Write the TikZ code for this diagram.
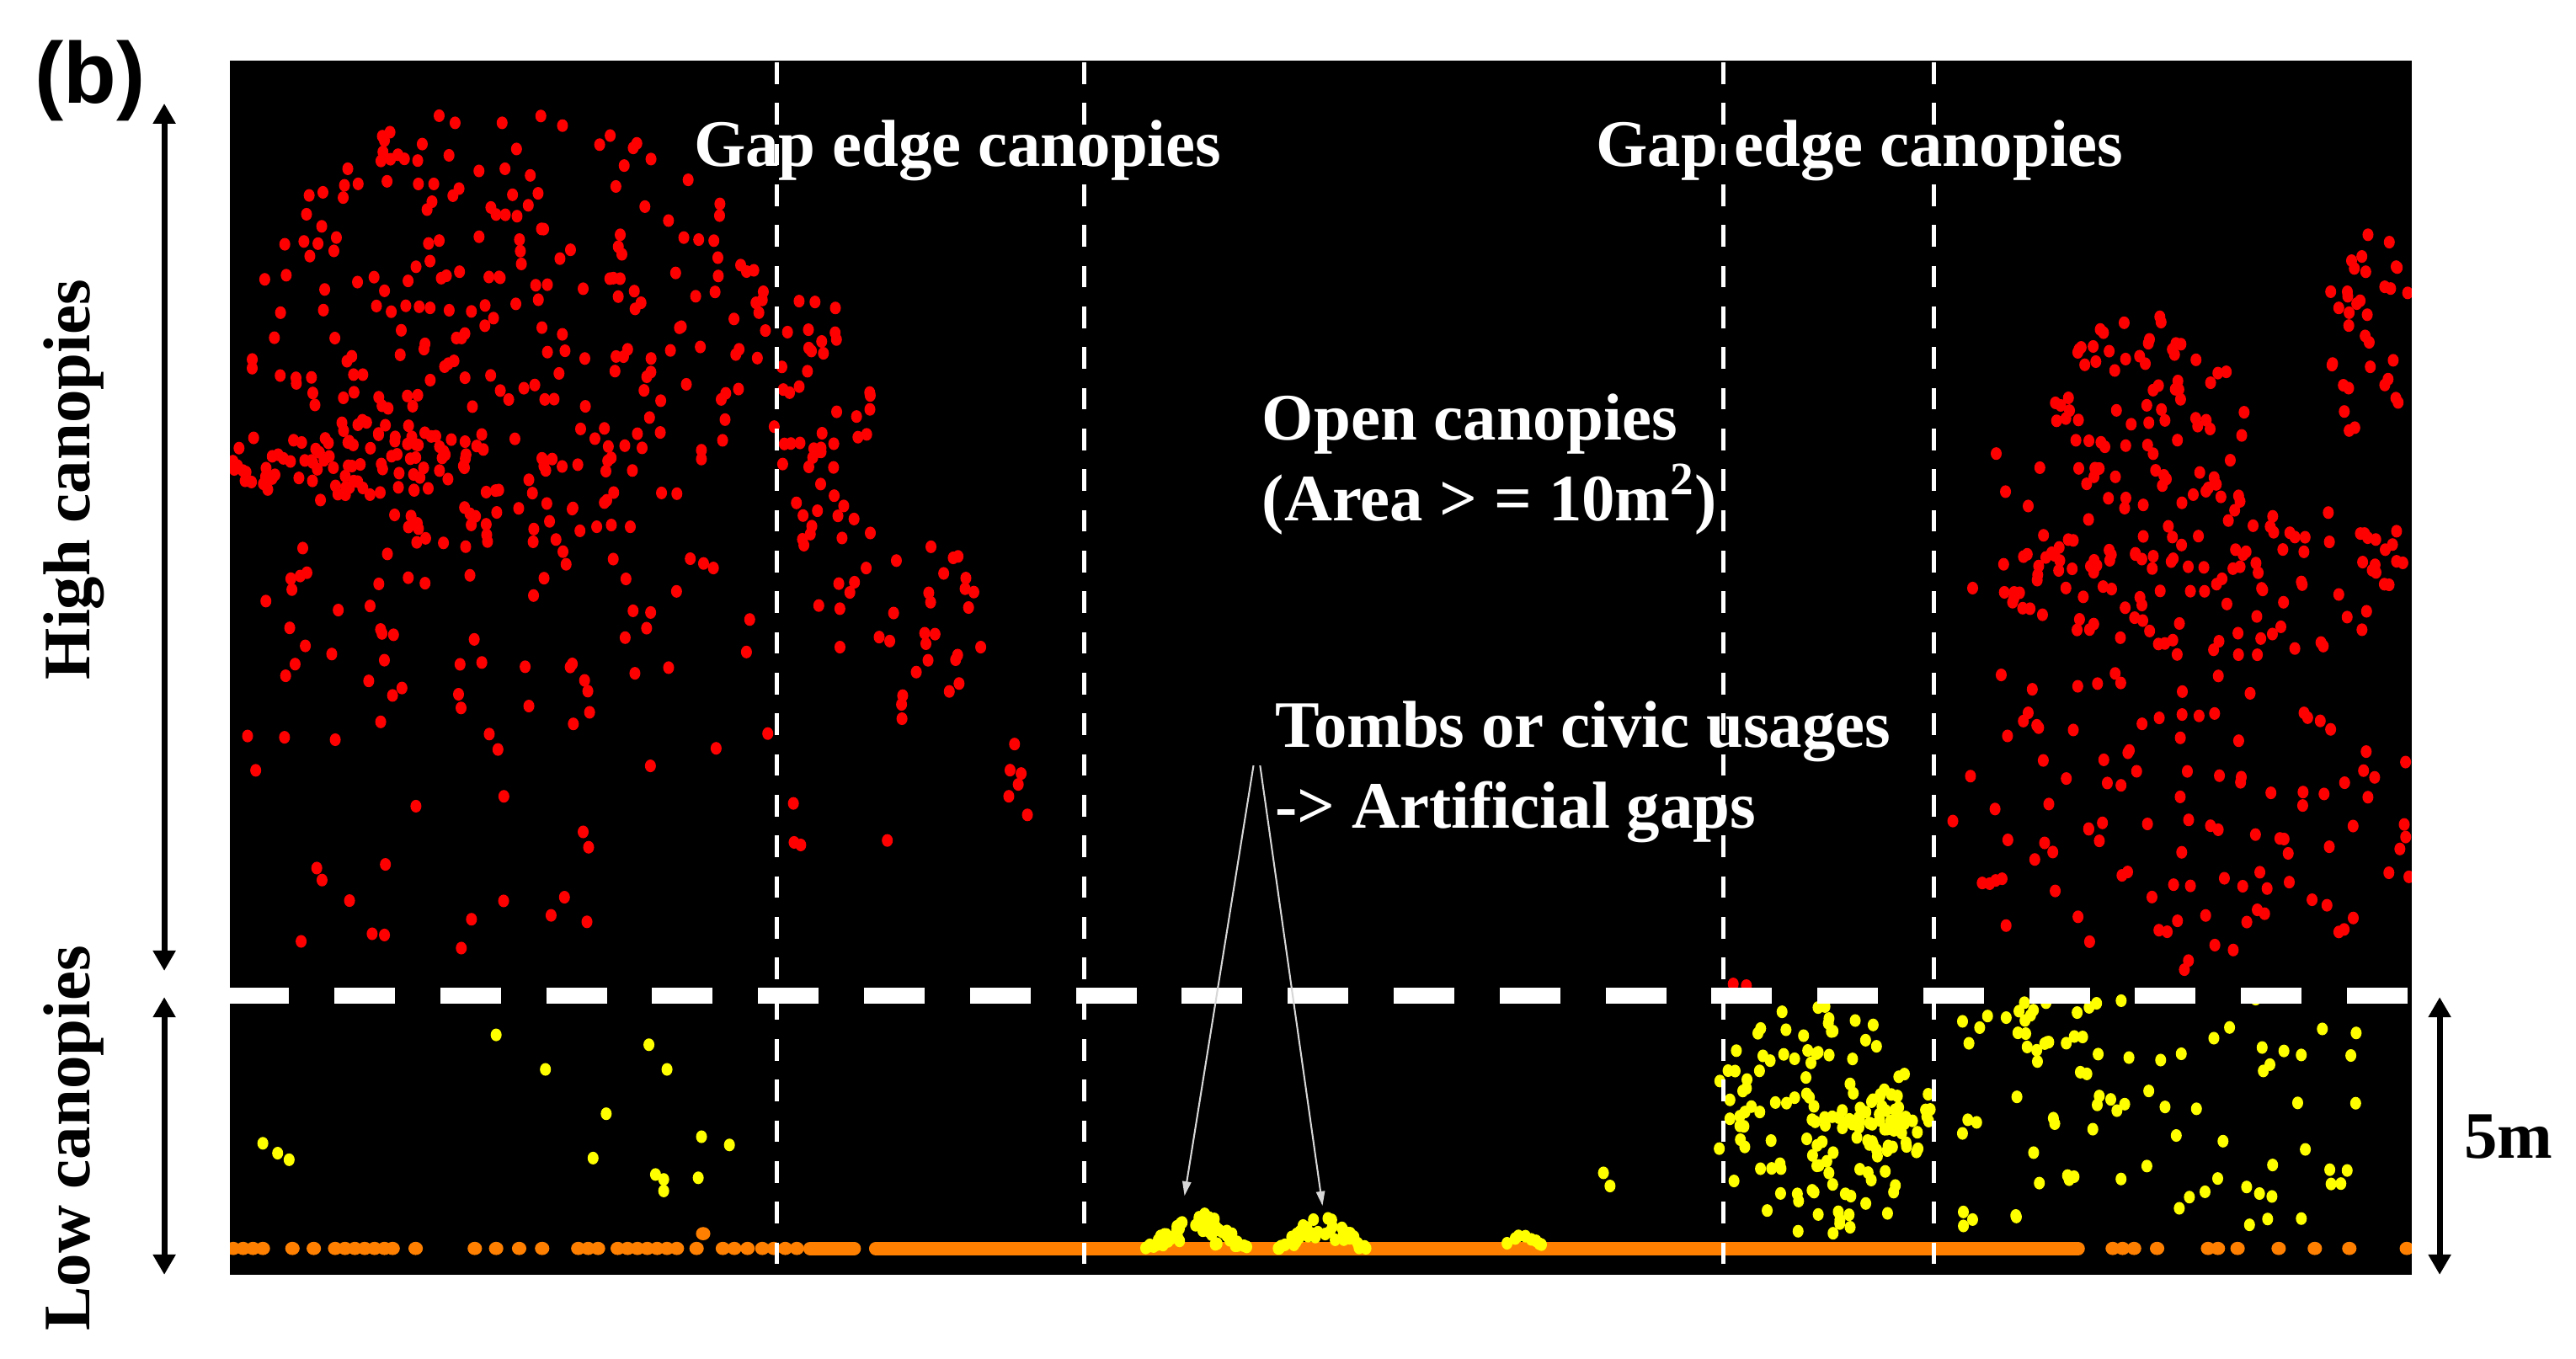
\documentclass[tikz,border=0pt]{standalone}
\usepackage{fontspec}
\setmainfont{Liberation Serif}
\newfontfamily\tagfont{Liberation Sans}
\usetikzlibrary{arrows.meta}
\definecolor{ptred}{RGB}{255,0,0}
\definecolor{ptyellow}{RGB}{255,255,0}
\definecolor{ptorange}{RGB}{255,128,0}
\definecolor{pointergray}{RGB}{215,215,215}

% scattered returns: n, cx, cy, rx, ry, style
\newcommand{\ptblob}[6]{%
  \foreach \k in {1,...,#1}{%
    \pgfmathsetmacro{\bR}{sqrt(rnd)}%
    \pgfmathsetmacro{\bA}{360*rnd}%
    \fill[#6] ({#2+#4*\bR*cos(\bA)},{#3+#5*\bR*sin(\bA)}) circle;%
  }}
\newcommand{\ptpatch}[6]{%
  \foreach \k in {1,...,#1}{%
    \fill[#6] ({#2+#4*rnd},{#3+#5*rnd}) circle;%
  }}
\newcommand{\ptmound}[6]{%
  \foreach \k in {1,...,#1}{%
    \pgfmathsetmacro{\bU}{2*rnd-1}%
    \pgfmathsetmacro{\bV}{sqrt(rnd)*(1-abs(\bU))}%
    \fill[#6] ({#2+#4*\bU},{#3-#5*\bV}) circle;%
  }}

\begin{document}
\begin{tikzpicture}[
      x=0.02cm, y=-0.02cm,
      lbl/.style={text=white, font=\fontsize{23}{27}\selectfont\bfseries, inner sep=0pt},
      side/.style={font=\fontsize{23}{27}\selectfont\bfseries, inner sep=0pt},
      rdot/.style={fill=ptred, x radius=1.9pt, y radius=2.2pt},
      ydot/.style={fill=ptyellow, x radius=1.9pt, y radius=2.2pt},
      odot/.style={fill=ptorange, x radius=2.5pt, y radius=2.3pt},
      ground/.style={ptorange, line width=4.6pt, line cap=round},
      gapline/.style={white, line width=1.4pt, dash pattern=on 7.5pt off 6.6pt},
      split/.style={white, line width=5.4pt, dash pattern=on 21pt off 15.7pt},
      dim/.style={{Triangle[length=7pt,width=7.5pt]}-{Triangle[length=7pt,width=7.5pt]}, line width=2pt},
      pointer/.style={-{Triangle[length=5pt,width=3pt]}, pointergray, line width=0.6pt},
    ]
    \useasboundingbox (0,0) rectangle (1568,827);
    \fill[black] (140,37) rectangle (1468,776);
    \pgfmathsetseed{11}

    \begin{scope}
      \clip (140,37) rectangle (1468,776);
      % ground returns
      \foreach \x in {142,148,154,160,178,191,204,210,216,222,228,234,239,253,289,302,316,330,
                      352,358,364,376,382,388,394,400,406,412,424,440,447,455,464,471,478,485,
                      1286,1292,1299,1313,1344,1350,1362,1387,1409,1430,1465}
        \fill[odot] (\x,760) circle;
      \fill[odot] (428,751) circle;
      \draw[ground] (493,760) -- (520,760);
      \draw[ground] (533,760) -- (1265,760);

      % low canopies
      \foreach \x/\y in {302/630,395/636,332/651,406/651,369/678,160/696,169/702,176/706,
                         361/705,427/692,444/697,399/715,404/718,404/725,425/717,976/714,980/722}
        \fill[ydot] (\x,\y) circle;
      \ptmound{60}{729}{760}{32}{27}{ydot}
      \ptmound{40}{805}{760}{27}{25}{ydot}
      \ptmound{8}{927}{758}{12}{8}{ydot}
      \ptblob{120}{1110}{680}{68}{72}{ydot}
      \ptblob{45}{1142}{682}{22}{22}{ydot}
      \ptpatch{75}{1192}{608}{245}{142}{ydot}
      \ptblob{15}{1250}{622}{35}{15}{ydot}

      % high canopies
      \ptblob{280}{310}{200}{160}{135}{rdot}
      \ptblob{70}{210}{280}{75}{25}{rdot}
      \ptblob{70}{300}{380}{165}{70}{rdot}
      \ptpatch{25}{140}{440}{330}{140}{rdot}
      \ptblob{50}{500}{250}{30}{90}{rdot}
      \ptblob{35}{545}{380}{55}{60}{rdot}
      \ptpatch{10}{480}{440}{160}{80}{rdot}
      \ptblob{80}{1310}{250}{60}{60}{rdot}
      \ptblob{35}{1445}{210}{30}{70}{rdot}
      \ptblob{130}{1350}{350}{130}{50}{rdot}
      \ptblob{110}{1330}{500}{150}{95}{rdot}
      \ptpatch{15}{1190}{270}{60}{150}{rdot}
      \fill[rdot] (1055,599) circle;
      \fill[rdot] (1063,600) circle;

      % 5 m split and gap edges
      \draw[split] (139,606) -- (1468,606);
      \foreach \x in {473,660,1049,1177}
        \draw[gapline] (\x,38) -- (\x,776);
    \end{scope}

    \node[side, font=\tagfont\fontsize{30}{34}\selectfont\bfseries, anchor=base] (tag) at (55,63) {(b)};
    \node[side, rotate=90] (high) at (45,292) {High canopies};
    \node[side, rotate=90] (low) at (45,693) {Low canopies};
    \node[side, anchor=base] (five) at (1527,705) {5m};

    \node[lbl, anchor=base] (gap1) at (583,101) {Gap edge canopies};
    \node[lbl, anchor=base] (gap2) at (1132,101) {Gap edge canopies};
    \node[lbl, anchor=base west] (open) at (768,268) {Open canopies};
    \node[lbl, anchor=base west] (area) at (768,317) {(Area > = 10m\textsuperscript{2})};
    \node[lbl, anchor=base west] (tomb) at (776,455) {Tombs or civic usages};
    \node[lbl, anchor=base west] (artif) at (776,504) {-> Artificial gaps};

    \coordinate (hightop) at (100,63);
    \coordinate (highbot) at (100,591);
    \coordinate (lowtop) at (100,607);
    \coordinate (lowbot) at (100,776);
    \coordinate (dimtop) at (1485,607);
    \coordinate (dimbot) at (1485,776);
    \draw[dim] (hightop) -- (highbot);
    \draw[dim] (lowtop) -- (lowbot);
    \draw[dim] (dimtop) -- (dimbot);

    \coordinate (tail1) at (763,466);
    \coordinate (tail2) at (767,466);
    \coordinate (mound1) at (721,728);
    \coordinate (mound2) at (805,734);
    \draw[pointer] (tail1) -- (mound1);
    \draw[pointer] (tail2) -- (mound2);
  \end{tikzpicture}
\end{document}
